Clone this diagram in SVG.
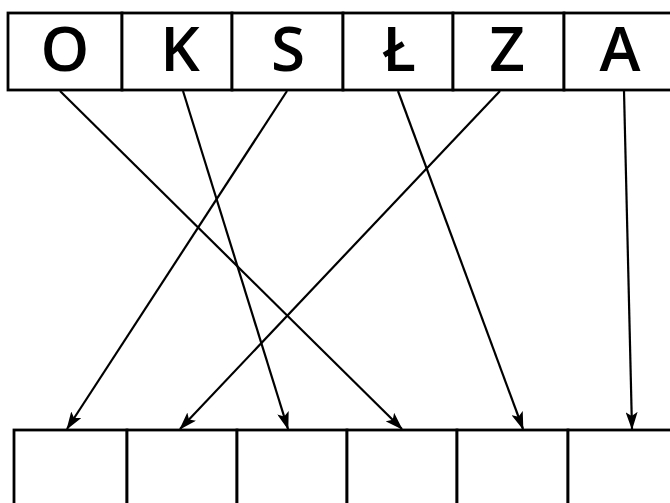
<svg xmlns="http://www.w3.org/2000/svg" width="670" height="503" viewBox="0 0 670 503">
<defs>
<marker id="ah" markerWidth="18" markerHeight="12" refX="17" refY="6" orient="auto" markerUnits="userSpaceOnUse">
<path d="M0,0 L18,6 L0,12 L4,6 Z" fill="#000"/>
</marker>
<style>
.box{fill:#fff;stroke:#000;stroke-width:2.8}
.lbl{font-family:"Open Sans","DejaVu Sans",sans-serif;font-size:62px;font-weight:600;fill:#000;text-anchor:middle}
.ln{stroke:#000;stroke-width:2.2;fill:none;marker-end:url(#ah)}
</style>
</defs>
<rect width="670" height="503" fill="#fff"/>
<g id="top-O"><rect class="box" x="8" y="13" width="114" height="77"/><text class="lbl" x="65" y="71">O</text></g>
<g id="top-K"><rect class="box" x="122" y="13" width="110" height="77"/><text class="lbl" x="180" y="71">K</text></g>
<g id="top-S"><rect class="box" x="232" y="13" width="111" height="77"/><text class="lbl" x="288" y="71">S</text></g>
<g id="top-L"><rect class="box" x="343" y="13" width="110" height="77"/><text class="lbl" x="399" y="71">Ł</text></g>
<g id="top-Z"><rect class="box" x="453" y="13" width="111" height="77"/><text class="lbl" x="507" y="71">Z</text></g>
<g id="top-A"><rect class="box" x="564" y="13" width="111" height="77"/><text class="lbl" x="620" y="71">A</text></g>
<g id="bot-1"><rect class="box" x="14" y="430" width="113" height="80"/></g>
<g id="bot-2"><rect class="box" x="127" y="430" width="110" height="80"/></g>
<g id="bot-3"><rect class="box" x="237" y="430" width="110" height="80"/></g>
<g id="bot-4"><rect class="box" x="347" y="430" width="110" height="80"/></g>
<g id="bot-5"><rect class="box" x="457" y="430" width="111" height="80"/></g>
<g id="bot-6"><rect class="box" x="568" y="430" width="110" height="80"/></g>
<g id="connectors">
<line class="ln" x1="60" y1="91" x2="402" y2="429"/>
<line class="ln" x1="183" y1="91" x2="288" y2="429"/>
<line class="ln" x1="287" y1="91" x2="67" y2="429"/>
<line class="ln" x1="398" y1="91" x2="523" y2="429"/>
<line class="ln" x1="500" y1="91" x2="180" y2="429"/>
<line class="ln" x1="624" y1="91" x2="632" y2="429"/>
</g>
</svg>
